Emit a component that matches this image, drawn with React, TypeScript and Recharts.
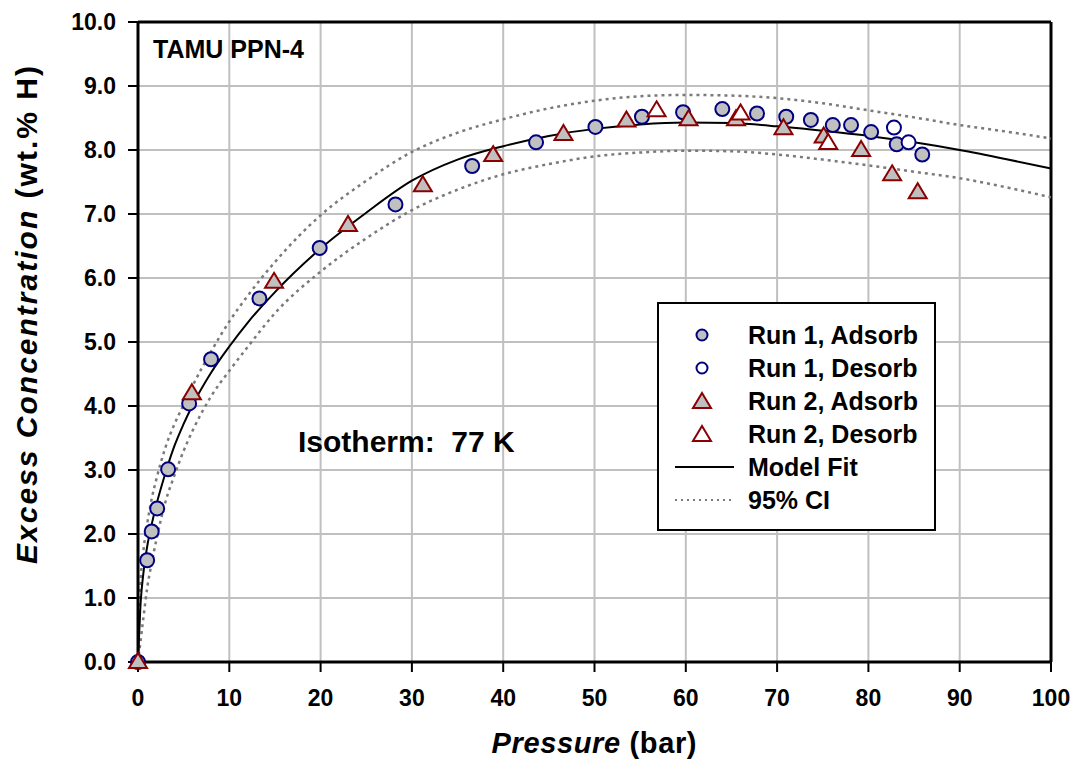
import React from "react";
import {
  ComposedChart,
  Line,
  Scatter,
  XAxis,
  YAxis,
  CartesianGrid,
  ReferenceLine,
} from "recharts";

// isotherm points (pressure in bar, excess wt.% H)
const run1AdsX = [0, 1.0, 1.5, 2.1, 3.3, 5.6, 8.0, 13.3, 19.9, 28.2, 36.6, 43.6, 50.1, 55.2, 59.7, 64.0, 67.8, 71.0, 73.7, 76.1, 78.1, 80.3, 83.1, 85.9];
const run1AdsY = [0, 1.59, 2.04, 2.4, 3.01, 4.04, 4.73, 5.68, 6.47, 7.15, 7.75, 8.12, 8.36, 8.52, 8.59, 8.64, 8.57, 8.52, 8.47, 8.39, 8.39, 8.28, 8.09, 7.93];

const run1DesX = [82.8, 84.4];
const run1DesY = [8.35, 8.12];

const run2AdsX = [0, 5.9, 14.9, 23.0, 31.2, 38.9, 46.6, 53.5, 60.3, 65.5, 70.7, 75.1, 79.2, 82.6, 85.4];
const run2AdsY = [0, 4.2, 5.94, 6.83, 7.45, 7.92, 8.25, 8.46, 8.48, 8.48, 8.34, 8.21, 8.0, 7.62, 7.34];

const run2DesX = [56.8, 66.0, 75.6];
const run2DesY = [8.62, 8.57, 8.11];

// model fit + confidence band, sampled along the curves
const fitX = [0, 0.3, 0.6, 1, 1.5, 2, 3, 4, 5, 6, 8, 10, 12, 15, 20, 25, 30, 35, 40, 45, 50, 55, 60, 65, 70, 75, 80, 85, 90, 95, 100];
const fitY = [0, 0.95, 1.4, 1.8, 2.15, 2.45, 2.95, 3.38, 3.72, 4.02, 4.52, 4.93, 5.3, 5.78, 6.46, 7.02, 7.52, 7.85, 8.06, 8.22, 8.33, 8.4, 8.43, 8.42, 8.37, 8.3, 8.22, 8.12, 8.0, 7.86, 7.71];
const ciUpperY = [0, 1.3, 1.75, 2.15, 2.55, 2.85, 3.35, 3.72, 4.02, 4.32, 4.85, 5.32, 5.72, 6.25, 6.98, 7.52, 7.97, 8.27, 8.48, 8.65, 8.77, 8.84, 8.86, 8.85, 8.81, 8.73, 8.62, 8.51, 8.39, 8.29, 8.18];
const ciLowerY = [0, 0.35, 0.7, 1.15, 1.55, 1.9, 2.5, 2.92, 3.3, 3.62, 4.15, 4.55, 4.92, 5.45, 6.1, 6.62, 7.06, 7.38, 7.62, 7.78, 7.9, 7.96, 7.99, 7.98, 7.93, 7.85, 7.76, 7.66, 7.56, 7.42, 7.26];

const xTicks = [0, 10, 20, 30, 40, 50, 60, 70, 80, 90, 100];
const yTicks = [0, 1, 2, 3, 4, 5, 6, 7, 8, 9, 10];

const zip = (xs: number[], ys: number[]) => xs.map((x, i) => ({ x, y: ys[i] }));

const FONT = "'Liberation Sans', Arial, sans-serif";
const NAVY = "#000080";
const MAROON = "#8b0000";
const FILL = "#c0c0c0";
const CI_GRAY = "#7a7a7a";

const Circle = (fill: string) => (props: any) => {
  const { cx, cy } = props;
  if (cx == null || cy == null) return null;
  return <circle cx={cx} cy={cy} r={7} fill={fill} stroke={NAVY} strokeWidth={2} />;
};

const Triangle = (fill: string) => (props: any) => {
  const { cx, cy } = props;
  if (cx == null || cy == null) return null;
  const pts = `${cx},${cy - 9} ${cx + 9},${cy + 6} ${cx - 9},${cy + 6}`;
  return <polygon points={pts} fill={fill} stroke={MAROON} strokeWidth={2} />;
};

const legendItems = [
  { name: "Run 1, Adsorb", kind: "circle", fill: FILL },
  { name: "Run 1, Desorb", kind: "circle", fill: "#fff" },
  { name: "Run 2, Adsorb", kind: "triangle", fill: FILL },
  { name: "Run 2, Desorb", kind: "triangle", fill: "#fff" },
  { name: "Model Fit", kind: "line", fill: "" },
  { name: "95% CI", kind: "dotted", fill: "" },
];

const LegendBox = () => (
  <div
    style={{
      position: "absolute",
      left: 657,
      top: 302,
      width: 279,
      height: 229,
      border: "2px solid #000",
      background: "#fff",
      fontFamily: FONT,
      fontWeight: "bold",
      fontSize: 25,
      boxSizing: "border-box",
    }}
  >
    {legendItems.map((it, i) => (
      <div key={it.name} style={{ position: "absolute", left: 0, top: 15 + i * 33, height: 33, width: 276 }}>
        <svg width={80} height={33} style={{ position: "absolute", left: 0, top: 0 }}>
          {it.kind === "circle" && <circle cx={43} cy={16} r={5.5} fill={it.fill} stroke={NAVY} strokeWidth={2} />}
          {it.kind === "triangle" && (
            <polygon points="43,8 52,23 34,23" fill={it.fill} stroke={MAROON} strokeWidth={2} />
          )}
          {it.kind === "line" && <line x1={16} x2={75} y1={16} y2={16} stroke="#000" strokeWidth={2} />}
          {it.kind === "dotted" && (
            <line x1={16} x2={75} y1={16} y2={16} stroke={CI_GRAY} strokeWidth={2} strokeDasharray="2 4" />
          )}
        </svg>
        <span style={{ position: "absolute", left: 89, top: 1, lineHeight: "30px" }}>{it.name}</span>
      </div>
    ))}
  </div>
);

export default function App() {
  return (
    <div style={{ position: "absolute", left: 0, top: 0, width: 1074, height: 767, background: "#fff" }}>
      <ComposedChart
        width={1074}
        height={767}
        margin={{ top: 22, right: 23, left: 0, bottom: 0 }}
      >
        <CartesianGrid stroke="#c0c0c0" strokeWidth={2} />
        <XAxis
          dataKey="x"
          type="number"
          domain={[0, 100]}
          ticks={xTicks}
          height={105}
          tickSize={10}
          tickMargin={18}
          axisLine={{ stroke: "#000", strokeWidth: 3 }}
          tickLine={{ stroke: "#000", strokeWidth: 2 }}
          tick={{ fill: "#000", fontSize: 23, fontWeight: "bold", fontFamily: FONT }}
        />
        <YAxis
          dataKey="y"
          type="number"
          domain={[0, 10]}
          ticks={yTicks}
          width={138}
          tickSize={10}
          tickMargin={12}
          tickFormatter={(v: number) => v.toFixed(1)}
          axisLine={{ stroke: "#000", strokeWidth: 3 }}
          tickLine={{ stroke: "#000", strokeWidth: 2 }}
          tick={{ fill: "#000", fontSize: 23, fontWeight: "bold", fontFamily: FONT }}
        />
        <ReferenceLine x={100} stroke="#000" strokeWidth={3} />
        <ReferenceLine y={10} stroke="#000" strokeWidth={3} />
        <Line data={zip(fitX, ciUpperY)} dataKey="y" type="monotone" dot={false} stroke={CI_GRAY} strokeWidth={2.5} strokeDasharray="3 4" isAnimationActive={false} />
        <Line data={zip(fitX, ciLowerY)} dataKey="y" type="monotone" dot={false} stroke={CI_GRAY} strokeWidth={2.5} strokeDasharray="3 4" isAnimationActive={false} />
        <Line data={zip(fitX, fitY)} dataKey="y" type="monotone" dot={false} stroke="#000" strokeWidth={2} isAnimationActive={false} />
        <Scatter data={zip(run1AdsX, run1AdsY)} dataKey="y" shape={Circle(FILL)} isAnimationActive={false} />
        <Scatter data={zip(run1DesX, run1DesY)} dataKey="y" shape={Circle("#fff")} isAnimationActive={false} />
        <Scatter data={zip(run2AdsX, run2AdsY)} dataKey="y" shape={Triangle(FILL)} isAnimationActive={false} />
        <Scatter data={zip(run2DesX, run2DesY)} dataKey="y" shape={Triangle("#fff")} isAnimationActive={false} />
      </ComposedChart>

      <svg width={1074} height={767} style={{ position: "absolute", left: 0, top: 0, pointerEvents: "none" }}>
        <text x={153} y={58} fontFamily={FONT} fontWeight="bold" fontSize={25} fill="#000">TAMU PPN-4</text>
        <text x={298} y={452} fontFamily={FONT} fontWeight="bold" fontSize={30} fill="#000" xmlSpace="preserve">Isotherm:  77 K</text>
        <text x={594} y={753} textAnchor="middle" fontFamily={FONT} fontWeight="bold" fontSize={29} fill="#000" textLength={205} lengthAdjust="spacing">
          <tspan fontStyle="italic">Pressure</tspan> (bar)
        </text>
        <text transform="translate(37,315) rotate(-90)" textAnchor="middle" fontFamily={FONT} fontWeight="bold" fontSize={30} fill="#000" textLength={498} lengthAdjust="spacing">
          <tspan fontStyle="italic">Excess Concentration</tspan> (wt.% H)
        </text>
      </svg>
      <LegendBox />
    </div>
  );
}
